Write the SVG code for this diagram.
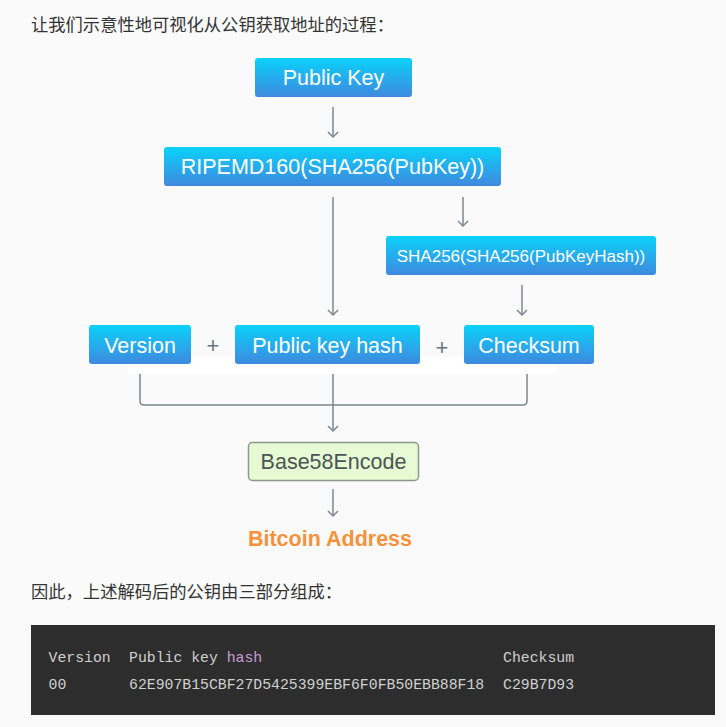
<svg xmlns="http://www.w3.org/2000/svg" width="726" height="727" viewBox="0 0 726 727">
<defs>
<linearGradient id="blue" x1="0" y1="0" x2="0" y2="1">
<stop offset="0" stop-color="#0ad2fb"/>
<stop offset="1" stop-color="#3f89de"/>
</linearGradient>
<marker id="arr" markerWidth="10" markerHeight="14" refX="8" refY="7" orient="auto" markerUnits="userSpaceOnUse" viewBox="0 0 10 14">
<path d="M3,2 L8,7 L3,12" fill="none" stroke="#7b8792" stroke-width="1.5"/>
</marker>
<style>
.box{fill:url(#blue);}
.lbl{font-family:"Liberation Sans",Arial,sans-serif;fill:#ffffff;text-anchor:middle;font-size:21.5px;}
.plus{font-family:"Liberation Sans",Arial,sans-serif;fill:#6c757d;text-anchor:middle;font-size:22px;}
.conn{fill:none;stroke:#7b8792;stroke-width:1.5;}
.cjk{font-family:"Noto Sans CJK SC",sans-serif;font-size:17.3px;fill:#333333;}
.code{font-family:"Liberation Mono","DejaVu Sans Mono",monospace;font-size:14.8px;fill:#d0d0d0;}
</style>
</defs>
<rect x="0" y="0" width="726" height="727" fill="#fafafa"/>
<rect x="128" y="357" width="429" height="17" fill="#ffffff"/>
<text class="cjk" x="31" y="31">让我们示意性地可视化从公钥获取地址的过程：</text>

<g id="connectors">
<line class="conn" x1="333" y1="107" x2="333" y2="137" marker-end="url(#arr)"/>
<line class="conn" x1="333" y1="197" x2="333" y2="315" marker-end="url(#arr)"/>
<line class="conn" x1="463" y1="197" x2="463" y2="226" marker-end="url(#arr)"/>
<line class="conn" x1="522" y1="285" x2="522" y2="315" marker-end="url(#arr)"/>
<path class="conn" d="M140,374 V401 Q140,405 144,405 H523 Q527,405 527,401 V374"/>
<line class="conn" x1="333" y1="374" x2="333" y2="431" marker-end="url(#arr)"/>
<line class="conn" x1="333" y1="489" x2="333" y2="516" marker-end="url(#arr)"/>
</g>

<g id="public-key">
<rect class="box" x="255" y="58" width="157" height="39" rx="3"/>
<text class="lbl" x="333.5" y="85">Public Key</text>
</g>
<g id="ripemd">
<rect class="box" x="164" y="147" width="337" height="39" rx="3"/>
<text class="lbl" x="332.5" y="174">RIPEMD160(SHA256(PubKey))</text>
</g>
<g id="sha256">
<rect class="box" x="386" y="236" width="270" height="39" rx="3"/>
<text class="lbl" x="521" y="262" style="font-size:17px">SHA256(SHA256(PubKeyHash))</text>
</g>
<g id="version">
<rect class="box" x="89" y="325" width="102" height="39" rx="3"/>
<text class="lbl" x="140" y="353">Version</text>
</g>
<g id="plus1"><text class="plus" x="213" y="353">+</text></g>
<g id="pubkeyhash">
<rect class="box" x="235" y="325" width="185" height="39" rx="3"/>
<text class="lbl" x="327.5" y="353">Public key hash</text>
</g>
<g id="plus2"><text class="plus" x="442" y="355">+</text></g>
<g id="checksum">
<rect class="box" x="464" y="325" width="130" height="39" rx="3"/>
<text class="lbl" x="529" y="353">Checksum</text>
</g>
<g id="base58">
<rect x="248.5" y="442.5" width="170" height="38" rx="4" fill="#e6fbd3" stroke="#8b998b" stroke-width="1.5"/>
<text class="lbl" x="333.5" y="469" style="fill:#4b5555">Base58Encode</text>
</g>
<g id="address">
<text class="lbl" x="330" y="546" style="fill:#f5923b;font-weight:bold">Bitcoin Address</text>
</g>

<text class="cjk" x="31" y="598">因此，上述解码后的公钥由三部分组成：</text>

<rect x="31" y="625" width="684" height="90" fill="#2d2d2d"/>
<text class="code" x="48.5" y="662">Version</text>
<text class="code" x="129" y="662">Public key <tspan fill="#c99bd0">hash</tspan></text>
<text class="code" x="503" y="662">Checksum</text>
<text class="code" x="48.5" y="689">00</text>
<text class="code" x="129" y="689">62E907B15CBF27D5425399EBF6F0FB50EBB88F18</text>
<text class="code" x="503" y="689">C29B7D93</text>
</svg>
